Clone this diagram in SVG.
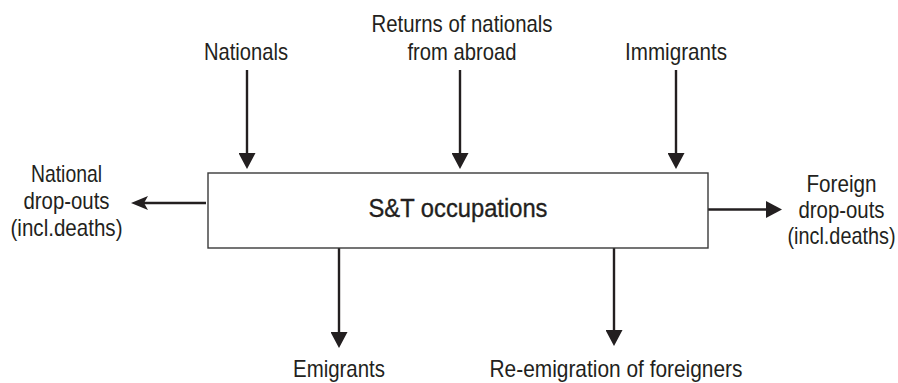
<svg xmlns="http://www.w3.org/2000/svg" width="898" height="383" viewBox="0 0 898 383">
  <style>
    .lbl { font-family: "Liberation Sans", Arial, sans-serif; font-size: 24px; fill: #231f20; text-anchor: middle; }
    .main { font-family: "Liberation Sans", Arial, sans-serif; font-size: 26.5px; fill: #231f20; text-anchor: middle; stroke: #231f20; stroke-width: 0.35; }
    .box { fill: #ffffff; stroke: #3a3a3a; stroke-width: 1.4; }
    .conn { stroke: #231f20; stroke-width: 2.4; fill: none; }
  </style>
  <defs>
    <marker id="ah" markerUnits="userSpaceOnUse" viewBox="0 0 16 17" markerWidth="16" markerHeight="17" refX="8" refY="8.5" orient="auto">
      <path d="M0,0 L16,8.5 L0,17 Z" fill="#231f20"/>
    </marker>
    <marker id="ahb" markerUnits="userSpaceOnUse" viewBox="0 0 17 14" markerWidth="17" markerHeight="14" refX="8" refY="7" orient="auto">
      <path d="M0,0 L17,7 L0,14 L4,7 Z" fill="#231f20"/>
    </marker>
  </defs>

  <g id="connectors">
    <line class="conn" x1="247" y1="70" x2="247" y2="161" marker-end="url(#ah)"/>
    <line class="conn" x1="460" y1="70" x2="460" y2="161" marker-end="url(#ah)"/>
    <line class="conn" x1="676" y1="70" x2="676" y2="161" marker-end="url(#ah)"/>
    <line class="conn" x1="206" y1="203" x2="140" y2="203" marker-end="url(#ahb)"/>
    <line class="conn" x1="708" y1="209.5" x2="774" y2="209.5" marker-end="url(#ah)"/>
    <line class="conn" x1="339" y1="248" x2="339" y2="340" marker-end="url(#ah)"/>
    <line class="conn" x1="614" y1="248" x2="614" y2="338" marker-end="url(#ah)"/>
  </g>

  <g id="node-st">
    <rect class="box" x="208" y="173" width="500" height="75"/>
    <text class="main" x="458" y="217" textLength="179" lengthAdjust="spacingAndGlyphs">S&amp;T occupations</text>
  </g>

  <g id="node-nationals">
    <text class="lbl" x="246" y="60" textLength="84" lengthAdjust="spacingAndGlyphs">Nationals</text>
  </g>

  <g id="node-returns">
    <text class="lbl" x="462" y="32" textLength="181" lengthAdjust="spacingAndGlyphs">Returns of nationals</text>
    <text class="lbl" x="462" y="60" textLength="109" lengthAdjust="spacingAndGlyphs">from abroad</text>
  </g>

  <g id="node-immigrants">
    <text class="lbl" x="676" y="60" textLength="102" lengthAdjust="spacingAndGlyphs">Immigrants</text>
  </g>

  <g id="node-national-dropouts">
    <text class="lbl" x="66.5" y="182" textLength="71" lengthAdjust="spacingAndGlyphs">National</text>
    <text class="lbl" x="66.5" y="209" textLength="86" lengthAdjust="spacingAndGlyphs">drop-outs</text>
    <text class="lbl" x="66.5" y="236" textLength="112" lengthAdjust="spacingAndGlyphs">(incl.deaths)</text>
  </g>

  <g id="node-foreign-dropouts">
    <text class="lbl" x="841.5" y="192" textLength="70" lengthAdjust="spacingAndGlyphs">Foreign</text>
    <text class="lbl" x="841.5" y="218" textLength="86" lengthAdjust="spacingAndGlyphs">drop-outs</text>
    <text class="lbl" x="841.5" y="244" textLength="108" lengthAdjust="spacingAndGlyphs">(incl.deaths)</text>
  </g>

  <g id="node-emigrants">
    <text class="lbl" x="339" y="377" textLength="92" lengthAdjust="spacingAndGlyphs">Emigrants</text>
  </g>

  <g id="node-reemigration">
    <text class="lbl" x="616" y="377" textLength="253" lengthAdjust="spacingAndGlyphs">Re-emigration of foreigners</text>
  </g>
</svg>
